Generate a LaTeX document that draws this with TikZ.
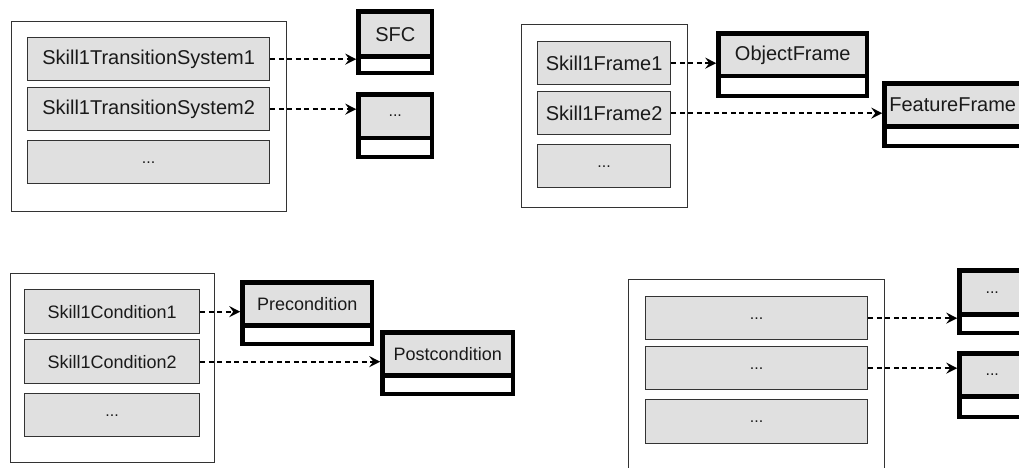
\documentclass[tikz,border=0pt]{standalone}
\usepackage{fontspec}
\setmainfont{Liberation Sans}
\usetikzlibrary{arrows.meta}
\definecolor{boxfill}{HTML}{E0E0E0}
\definecolor{lineclr}{HTML}{333333}
\definecolor{txtclr}{HTML}{1A1A1A}
\tikzset{
  groupbox/.style={draw=lineclr, line width=1.3pt, fill=white, inner sep=0pt, anchor=north west},
  itembox/.style={draw=lineclr, line width=1.3pt, fill=boxfill, inner sep=0pt, anchor=north west, text=txtclr,
    font=\fontsize{20pt}{24pt}\selectfont},
  itemsmall/.style={itembox, font=\fontsize{18pt}{22pt}\selectfont},
  dotsbox/.style={itembox, font=\fontsize{16pt}{20pt}\selectfont},
  clsbox/.style={draw=black, line width=4.5pt, fill=white, inner sep=0pt, anchor=north west},
  clshead/.style={draw=black, line width=4.5pt, fill=boxfill, inner sep=0pt, anchor=north west, text=txtclr,
    font=\fontsize{20pt}{24pt}\selectfont},
  clsheadsmall/.style={clshead, font=\fontsize{18pt}{22pt}\selectfont},
  clsheaddots/.style={clshead, font=\fontsize{16pt}{20pt}\selectfont},
  link/.style={draw=black, line width=1.7pt, dash pattern=on 5pt off 3.5pt,
    -{Stealth[length=11pt, width=11pt, inset=4pt]}},
}
\begin{document}
\begin{tikzpicture}[x=1pt, y=-1pt]
\useasboundingbox (0,0) rectangle (1019,468);
\clip (0,0) rectangle (1019,468);
% ---------- top-left group
\node[groupbox, minimum width=275pt, minimum height=190pt] (tlg) at (11,21) {};
\node[itembox, minimum width=242pt, minimum height=43pt] (tl1) at (27,37) {Skill1TransitionSystem1};
\node[itembox, minimum width=242pt, minimum height=43pt] (tl2) at (27,87) {Skill1TransitionSystem2};
\node[dotsbox, minimum width=242pt, minimum height=43pt] (tl3) at (27,140) {...};
\node[clsbox, minimum width=73.5pt, minimum height=61.5pt] (sfc) at (356.25,9.25) {};
\node[clshead, minimum width=73.5pt, minimum height=45.25pt] (sfch) at (356.25,9.25) {SFC};
\node[clsbox, minimum width=73.5pt, minimum height=62.5pt] (tlc2) at (356.25,92.25) {};
\node[clsheaddots, minimum width=73.5pt, minimum height=43.25pt] (tlc2h) at (356.25,92.25) {...};
\draw[link] (tl1.east) -- (tl1.east -| sfc.west);
\draw[link] (tl2.east) -- (tl2.east -| tlc2.west);
% ---------- top-right group
\node[groupbox, minimum width=166pt, minimum height=183pt] (trg) at (521,24) {};
\node[itembox, minimum width=133pt, minimum height=43pt] (tr1) at (537,41) {Skill1Frame1};
\node[itembox, minimum width=133pt, minimum height=43pt] (tr2) at (537,91) {Skill1Frame2};
\node[dotsbox, minimum width=133pt, minimum height=43pt] (tr3) at (537,144) {...};
\node[clsbox, minimum width=148.5pt, minimum height=62.5pt] (obj) at (716.25,31.25) {};
\node[clshead, minimum width=148.5pt, minimum height=42.75pt] (objh) at (716.25,31.25) {ObjectFrame};
\node[clsbox, minimum width=136.5pt, minimum height=62.5pt] (feat) at (882.25,81.25) {};
\node[clshead, minimum width=136.5pt, minimum height=42.75pt] (feath) at (882.25,81.25) {FeatureFrame};
\draw[link] (tr1.east) -- (tr1.east -| obj.west);
\draw[link] (tr2.east) -- (tr2.east -| feat.west);
% ---------- bottom-left group
\node[groupbox, minimum width=204pt, minimum height=189pt] (blg) at (10,273) {};
\node[itemsmall, minimum width=175pt, minimum height=44pt] (bl1) at (24,289) {Skill1Condition1};
\node[itemsmall, minimum width=175pt, minimum height=44pt] (bl2) at (24,339) {Skill1Condition2};
\node[dotsbox, minimum width=175pt, minimum height=43pt] (bl3) at (24,393) {...};
\node[clsbox, minimum width=129.5pt, minimum height=61.5pt] (pre) at (240.25,280.25) {};
\node[clsheadsmall, minimum width=129.5pt, minimum height=42.75pt] (preh) at (240.25,280.25) {Precondition};
\node[clsbox, minimum width=130.5pt, minimum height=61.5pt] (post) at (380.25,330.25) {};
\node[clsheadsmall, minimum width=130.5pt, minimum height=42.75pt] (posth) at (380.25,330.25) {Postcondition};
\draw[link] (bl1.east) -- (bl1.east -| pre.west);
\draw[link] (bl2.east) -- (bl2.east -| post.west);
% ---------- bottom-right group
\node[groupbox, minimum width=256pt, minimum height=200pt] (brg) at (628,279) {};
\node[dotsbox, minimum width=222pt, minimum height=43pt] (br1) at (645,296) {...};
\node[dotsbox, minimum width=222pt, minimum height=43pt] (br2) at (645,346) {...};
\node[dotsbox, minimum width=222pt, minimum height=44pt] (br3) at (645,399) {...};
\node[clsbox, minimum width=65.5pt, minimum height=62.5pt] (brc1) at (957.25,268.25) {};
\node[clsheaddots, minimum width=65.5pt, minimum height=43.75pt] (brc1h) at (957.25,268.25) {...};
\node[clsbox, minimum width=65.5pt, minimum height=63.5pt] (brc2) at (957.25,351.25) {};
\node[clsheaddots, minimum width=65.5pt, minimum height=42.75pt] (brc2h) at (957.25,351.25) {...};
\draw[link] (br1.east) -- (br1.east -| brc1.west);
\draw[link] (br2.east) -- (br2.east -| brc2.west);
\end{tikzpicture}
\end{document}
